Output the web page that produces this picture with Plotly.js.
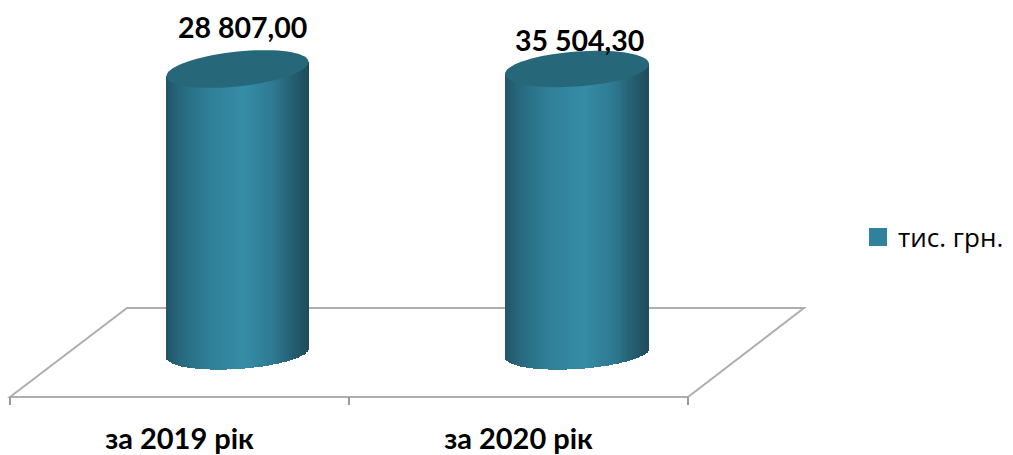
<!DOCTYPE html>
<html><head><meta charset="utf-8">
<script src="https://cdn.plot.ly/plotly-3.0.1.min.js"></script>
<style>html,body{margin:0;padding:0;background:#fff;overflow:hidden}</style>
</head><body><div id="chart" style="width:1013px;height:455px"></div>
<script>
const categories = ["за 2019 рік", "за 2020 рік"];
const values = [28807.00, 35504.30];
const valueLabels = ["28 807,00", "35 504,30"];
const seriesName = "тис. грн.";
const axisCap = 28807;           // drawn column height is limited by the axis maximum

const W = 1013, H = 455, bottomMargin = 50;
const pxPerCat = 339, x0px = 179.5;      // pixel of category 0
const zeroPx = 353, capPx = 69;          // pixel of value 0 and value axisCap
const u = axisCap / (zeroPx - capPx);    // value units per pixel
const plotH = H - bottomMargin;

const xData = px => (px - x0px) / pxPerCat;
const yData = py => (zeroPx - py) * u;

const ramp = [[0,[34,84,103]],[0.10,[40,104,126]],[0.30,[47,127,152]],[0.55,[54,140,166]],[0.75,[46,122,146]],[0.90,[36,92,110]],[1,[30,76,92]]];
function rampColor(t){
  for(let i=1;i<ramp.length;i++){ if(t<=ramp[i][0]){
    const a=ramp[i-1],b=ramp[i],f=(t-a[0])/(b[0]-a[0]);
    const c=a[1].map((v,k)=>Math.round(v+(b[1][k]-v)*f));
    return `rgb(${c[0]},${c[1]},${c[2]})`; } }
  return 'rgb(30,76,92)';
}

const cyl = [
  {cx:237.5, a:71, topShear:-0.10, botShear:-0.063},
  {cx:577,   a:72, topShear:-0.07, botShear:-0.063}
];
const topB = 17.5, botB = 16;

const drawn = values.map(v => Math.min(v, axisCap));
const traces = [];
const shapes = [];

// floor
const floorFront = [-0.5, 1.5];
shapes.push({type:'path', layer:'below', xref:'x', yref:'y',
  path:`M ${floorFront[0]} ${yData(397)} L ${xData(127)} ${yData(308)} L ${xData(804)} ${yData(308)} L ${floorFront[1]} ${yData(397)} Z`,
  line:{color:'#aeaeae', width:2}, fillcolor:'rgba(255,255,255,0)'});

categories.forEach((c,i)=>{
  const g = cyl[i];
  const topPx = zeroPx - drawn[i]/u;
  const xs=[],bases=[],hs=[],cols=[],ws=[];
  const step=1.5;
  for(let dx=-g.a+step/2; dx<g.a; dx+=step){
    const r = dx/g.a;
    const lowPx = zeroPx + g.botShear*dx + botB*Math.sqrt(Math.max(0,1-r*r));
    const upPx = topPx + g.topShear*dx;
    xs.push(xData(g.cx+dx)); bases.push(yData(lowPx)); hs.push((lowPx-upPx)*u);
    ws.push((step+0.6)/pxPerCat); cols.push(rampColor((dx+g.a)/(2*g.a)));
  }
  traces.push({type:'bar', x:xs, y:hs, base:bases, width:ws, marker:{color:cols, line:{width:0}},
    showlegend:false, hoverinfo:'skip'});
  // top ellipse
  let p='';
  for(let k=0;k<=72;k++){
    const t=k/72*2*Math.PI, dx=g.a*Math.cos(t);
    const py=topPx+g.topShear*dx+topB*Math.sin(t);
    p+=(k?' L ':'M ')+xData(g.cx+dx)+' '+yData(py);
  }
  shapes.push({type:'path', layer:'above', xref:'x', yref:'y', path:p+' Z', fillcolor:'#26687a', line:{width:0}});
});

// legend-only series
traces.push({type:'scatter', mode:'markers', x:[null], y:[null], name:seriesName,
  marker:{symbol:'square', color:'#30829c', size:16, line:{color:'#30829c', width:2}}, hoverinfo:'skip'});

const labelPx = [[242,27],[579,40]];
const annotations = valueLabels.map((t,i)=>({
  x:xData(labelPx[i][0]), y:yData(labelPx[i][1]), xref:'x', yref:'y', text:t, showarrow:false,
  font:{family:'Lato, "Open Sans", sans-serif', size:28.5, color:'#000', weight:700},
  xanchor:'center', yanchor:'middle'
}));

Plotly.newPlot('chart', traces, {
  width:W, height:H, margin:{l:0,r:0,t:0,b:bottomMargin,pad:0},
  paper_bgcolor:'#fff', plot_bgcolor:'#fff', barmode:'overlay', bargap:0,
  font:{family:'Lato, "Open Sans", sans-serif', color:'#000'},
  xaxis:{type:'linear', range:[xData(0),xData(W)], tickmode:'array', tickvals:[0,1], ticktext:categories,
    ticks:'', showgrid:false, zeroline:false, showline:false, fixedrange:true, automargin:false,
    ticklabelstandoff:14,
    tickfont:{family:'Lato, "Open Sans", sans-serif', size:29, color:'#000', weight:700},
    minor:{ticks:'inside', tick0:-0.5, dtick:1, ticklen:8, tickcolor:'#9a9a9a', tickwidth:1.5, showgrid:false}},
  yaxis:{range:[yData(plotH),yData(0)], showgrid:false, zeroline:false, showline:false, showticklabels:false, ticks:'', fixedrange:true, automargin:false},
  shapes, annotations,
  showlegend:true,
  legend:{x:858/W, y:1-237/plotH, xanchor:'left', yanchor:'middle', bgcolor:'rgba(0,0,0,0)', itemwidth:30,
    font:{family:'"Open Sans", sans-serif', size:26, color:'#000'}},
  hovermode:false
}, {displayModeBar:false, staticPlot:true});
</script></body></html>
